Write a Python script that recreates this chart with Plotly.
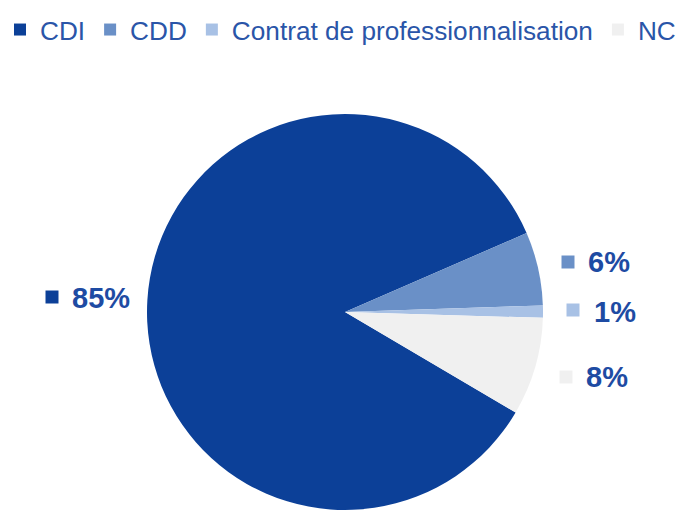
import plotly.graph_objects as go

categories = ["CDI", "CDD", "Contrat de professionnalisation", "NC"]
values = [85, 6, 1, 8]
colors = ["#0C4098", "#6A90C7", "#A8C1E5", "#F0F0F0"]

# label placement (screen pixels) for the outside percentage labels
label_text_px = [(101, 298), (609, 262), (615, 312), (607, 377)]
label_sq_px = [(52, 297), (568, 262), (573, 310), (566, 377)]

W, H = 688, 512
OFF = 8  # page body margin: figure is drawn at (8, 8) in the window
ML, MR, MT, MB = 0, 0, 60, 0
PW, PH = W - ML - MR, H - MT - MB

cx, cy, r = 345, 312, 198


def px_x(x):
    return (x - OFF - ML) / PW


def px_y(y):
    return (H - MB - (y - OFF)) / PH


fig = go.Figure(
    go.Pie(
        labels=categories,
        values=values,
        sort=False,
        direction="clockwise",
        rotation=120.5,
        marker=dict(colors=colors, line=dict(width=0)),
        textinfo="none",
        hoverinfo="label+percent",
        domain=dict(x=[px_x(cx - r), px_x(cx + r)], y=[px_y(cy + r), px_y(cy - r)]),
    )
)

TEXT_BLUE = "#1E4BA3"
annotations = []
shapes = []
sq = 13
for v, c, (tx, ty), (sx, sy) in zip(values, colors, label_text_px, label_sq_px):
    annotations.append(
        dict(
            x=px_x(tx), y=px_y(ty), xref="paper", yref="paper",
            text=f"<b>{v}%</b>", showarrow=False,
            xanchor="center", yanchor="middle",
            font=dict(family="Liberation Sans, Arial, sans-serif", size=29, color=TEXT_BLUE),
        )
    )
    shapes.append(
        dict(
            type="rect", xref="paper", yref="paper",
            x0=px_x(sx - sq / 2), x1=px_x(sx + sq / 2),
            y0=px_y(sy + sq / 2), y1=px_y(sy - sq / 2),
            fillcolor=c, line=dict(width=0),
        )
    )

# legend: entry text sits 40px after the item start
legend_left_screen = 0
fig.update_layout(
    width=W, height=H,
    margin=dict(l=ML, r=MR, t=MT, b=MB, autoexpand=False),
    paper_bgcolor="white", plot_bgcolor="white",
    showlegend=True,
    legend=dict(
        orientation="h",
        x=px_x(legend_left_screen), xanchor="left",
        y=px_y(30), yanchor="middle",
        font=dict(family="Liberation Sans, Arial, sans-serif", size=26.2, color="#2A55A8"),
        bgcolor="rgba(0,0,0,0)",
        traceorder="normal",
    ),
    annotations=annotations,
    shapes=shapes,
)

fig.write_html("out.html")
